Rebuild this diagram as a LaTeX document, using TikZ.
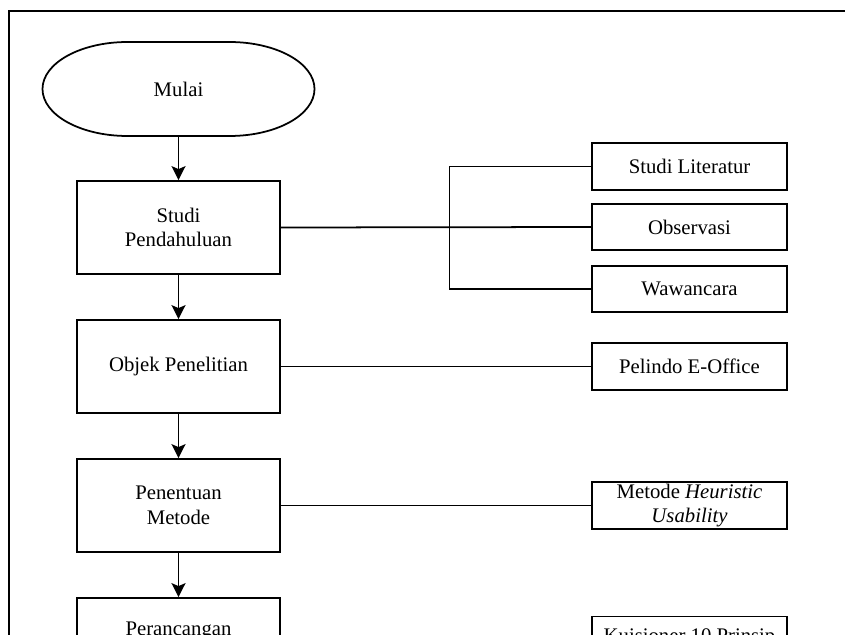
\documentclass[tikz,border=0pt]{standalone}
\usepackage{fontspec}
\setmainfont{Liberation Serif}
\usepackage{tikz}
\usetikzlibrary{calc,positioning,arrows.meta}
\tikzset{
  box/.style={draw,line width=1pt,align=center,inner sep=0pt,
              font=\fontsize{11.8}{14}\selectfont,minimum width=4.06cm,minimum height=1.86cm},
  side/.style={box,minimum width=3.89cm,minimum height=0.93cm},
  lnk/.style={line width=1pt},
  arr/.style={-{Stealth[length=2.8mm,width=2.8mm,inset=0.6mm]},line width=1pt}
}

\begin{document}
\begin{tikzpicture}
  \useasboundingbox (0,0) rectangle (16.9,-12.68);
  \draw[lnk] (17.2,-0.22) -- (0.18,-0.22) -- (0.18,-13);
  % start
  \node[box,draw=none,outer sep=0pt,minimum width=5.44cm,minimum height=1.88cm] (mulai) at (3.57,-1.78) {Mulai};
  \draw[lnk] ([xshift=1.7cm]mulai.north west) -- ([xshift=-1.7cm]mulai.north east)
    arc[start angle=90,end angle=-90,x radius=1.7cm,y radius=0.94cm]
    -- ([xshift=1.7cm]mulai.south west)
    arc[start angle=270,end angle=90,x radius=1.7cm,y radius=0.94cm] -- cycle;
  % main steps
  \node[box] (sp) at (3.57,-4.55)  {Studi\\Pendahuluan};
  \node[box] (op) at (3.57,-7.33)  {Objek Penelitian};
  \node[box] (pm) at (3.57,-10.11) {Penentuan\\Metode};
  \node[box] (pr) at (3.57,-12.89) {Perancangan\\\strut};
  \draw[arr] (mulai)--(sp); \draw[arr] (sp)--(op); \draw[arr] (op)--(pm); \draw[arr] (pm)--(pr);
  % side boxes
  \node[side] (lit) at (13.79,-3.33)  {Studi Literatur};
  \node[side] (obs) at (13.79,-4.54)  {Observasi};
  \node[side] (waw) at (13.79,-5.78)  {Wawancara};
  \node[side] (pel) at (13.79,-7.33)  {Pelindo E-Office};
  \node[side] (met) at (13.79,-10.11) {Metode \textit{Heuristic}\\\textit{Usability}};
  \node[side,minimum height=1.4cm] (kui) at (13.79,-13.03) {Kuisioner 10 Prinsip\\\strut};
  \coordinate (br) at (8.99,-4.54);
  \draw[lnk] (sp.east) -- (obs.west);
  \draw[lnk] (lit.west) -| (br) |- (waw.west);
  \draw[lnk] (op.east) -- (pel.west);
  \draw[lnk] (pm.east) -- (met.west);
\end{tikzpicture}
\end{document}
